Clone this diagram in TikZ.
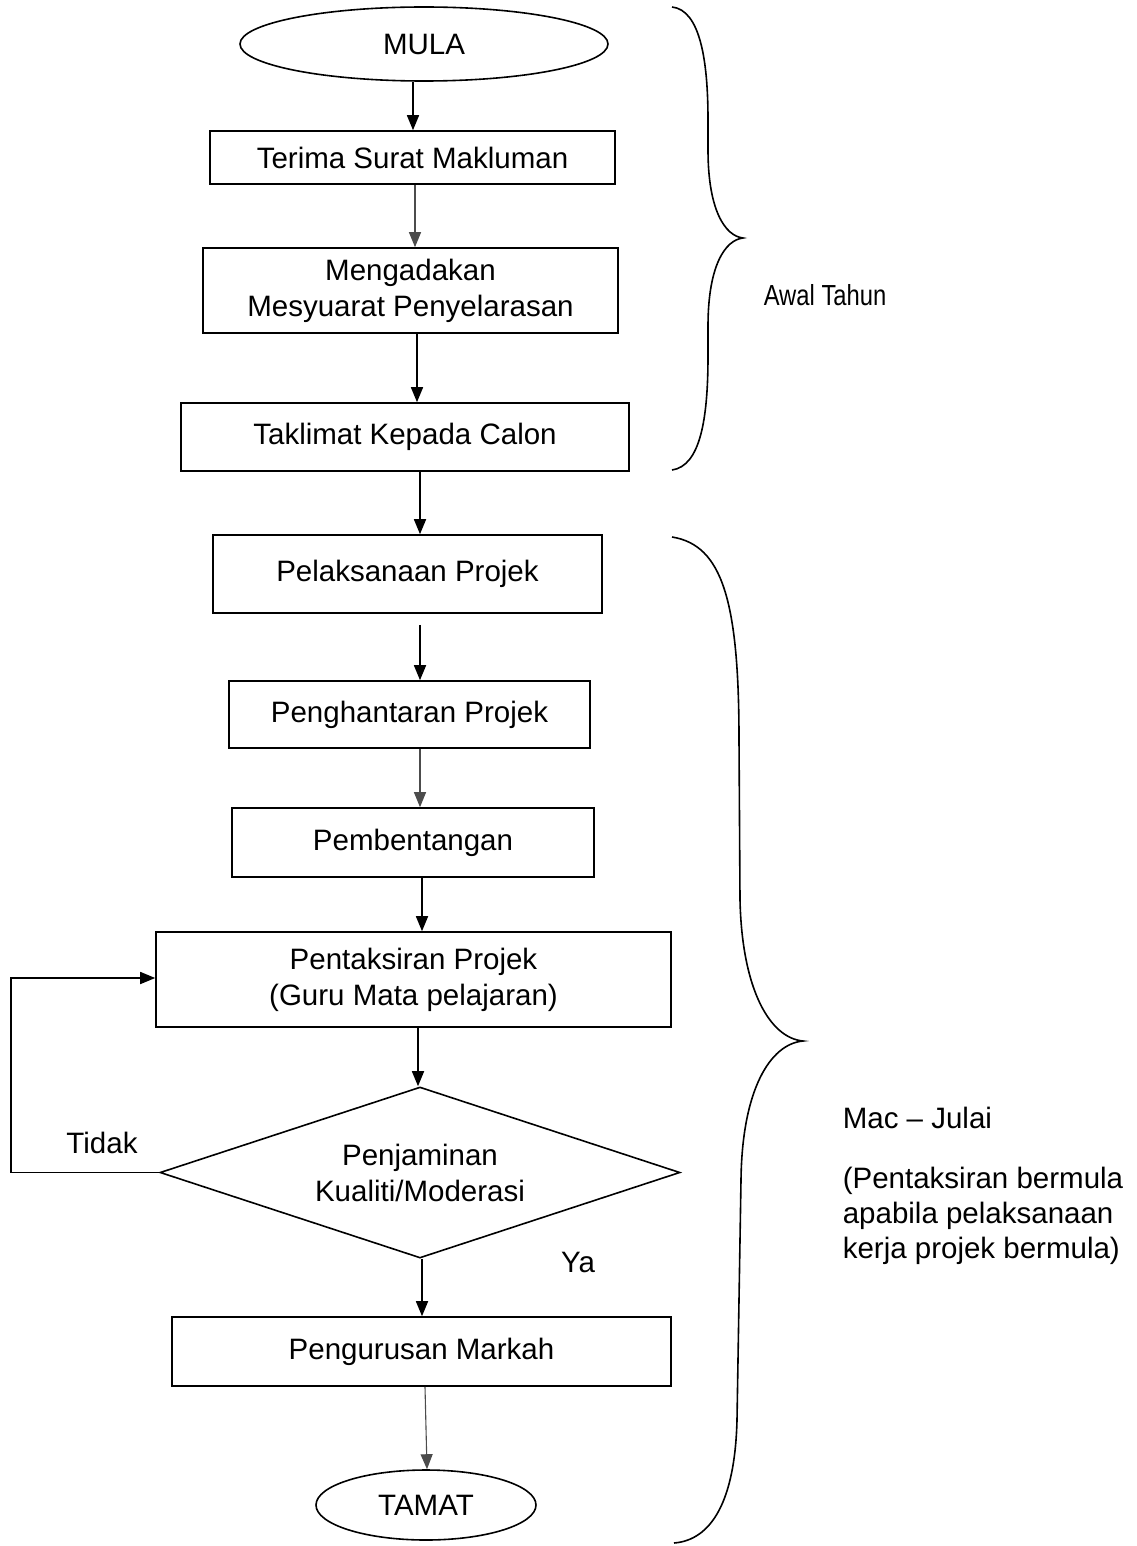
\documentclass[tikz,border=0pt]{standalone}
\usepackage{fontspec}
\setmainfont{Liberation Sans}
\newfontfamily\narrowfont[FakeStretch=0.82]{Liberation Sans}
\usetikzlibrary{arrows.meta,shapes.geometric}

\begin{document}
\begin{tikzpicture}
[x=1pt,y=-1pt,>={Triangle[length=15pt,width=12pt]},line width=1.6pt,
  font=\fontsize{29.5}{36}\selectfont,
  proc node/.style={rectangle,draw,inner sep=0pt,align=center},
  term node/.style={ellipse,draw,inner sep=0pt},
  dec node/.style={diamond,draw,inner sep=0pt,aspect=2.9,align=center},
  thin link/.style={line width=1.1pt,draw=black!70},
  note/.style={inner sep=0pt,align=left,font=\fontsize{29.5}{35}\selectfont}]
  \useasboundingbox (0,0) rectangle (1136,1546);
  \node[term node,minimum width=368pt,minimum height=74pt] (mula) at (424,44) {MULA};
  \node[proc node,minimum width=405pt,minimum height=53pt] (terima) at (412.5,157.5) {Terima Surat Makluman};
  \node[proc node,minimum width=415pt,minimum height=85pt] (mesyuarat) at (410.5,290.5) {Mengadakan\\Mesyuarat Penyelarasan};
  \node[proc node,minimum width=448pt,minimum height=68pt] (taklimat) at (405,437) {Taklimat Kepada Calon};
  \node[proc node,minimum width=389pt,minimum height=78pt] (pelaksanaan) at (407.5,574) {Pelaksanaan Projek};
  \node[proc node,minimum width=361pt,minimum height=67pt] (penghantaran) at (409.5,714.5) {Penghantaran Projek};
  \node[proc node,minimum width=362pt,minimum height=69pt] (pembentangan) at (413,842.5) {Pembentangan};
  \node[proc node,minimum width=515pt,minimum height=95pt] (pentaksiran) at (413.5,979.5) {Pentaksiran Projek\\(Guru Mata pelajaran)};
  \node[dec node,minimum width=520pt,minimum height=171pt] (jamin) at (420,1172.5) {Penjaminan\\Kualiti/Moderasi};
  \node[proc node,minimum width=499pt,minimum height=69pt] (markah) at (421.5,1351.5) {Pengurusan Markah};
  \node[term node,minimum width=220pt,minimum height=70pt] (tamat) at (426,1505) {TAMAT};

  \node (tidak) at (102,1143) {Tidak};
  \node (ya) at (578,1262) {Ya};
  \node[anchor=west,inner sep=0pt,font=\narrowfont\fontsize{29}{36}\selectfont] (awal) at (763,295) {Awal Tahun};
  \node[note,anchor=base west] (mac) at (842,1128) {Mac – Julai};
  \node[note,anchor=north west] (nota) at (842,1166) {(Pentaksiran bermula\\apabila pelaksanaan\\kerja projek bermula)};

  \path[->]
    (413,0 |- mula.south) edge (413,0 |- terima.north)
    (415,0 |- terima.south) edge[thin link] (415,0 |- mesyuarat.north)
    (417,0 |- mesyuarat.south) edge (417,0 |- taklimat.north)
    (420,0 |- taklimat.south) edge (420,0 |- pelaksanaan.north)
    (420,0 |- pelaksanaan.south) edge[shorten <=11pt] (420,0 |- penghantaran.north)
    (420,0 |- penghantaran.south) edge[thin link] (420,0 |- pembentangan.north)
    (422,0 |- pembentangan.south) edge (422,0 |- pentaksiran.north)
    (418,0 |- pentaksiran.south) edge (418,0 |- jamin.north)
    (422,0 |- jamin.south) edge (422,0 |- markah.north)
    (425,0 |- markah.south) edge[thin link] (427,0 |- tamat.north);
  \draw[->] (jamin.west) -- (11,1172.5) -- (11,978) -- (pentaksiran.west |- 11,978);

  % kurungan kanan
  \draw (672,7) .. controls (700,10) and (708,60) .. (708,120) -- (708,150)
    .. controls (708,210) and (725,236) .. (743,238)
    .. controls (725,240) and (708,266) .. (708,326) -- (708,356)
    .. controls (708,420) and (700,466) .. (672,470);
  \draw (672,537) .. controls (722,545) and (739,600) .. (739,740) -- (740,900)
    .. controls (742,990) and (770,1038) .. (803,1041)
    .. controls (770,1044) and (742,1090) .. (741,1180) -- (737,1420)
    .. controls (735,1500) and (712,1540) .. (674,1543);
\end{tikzpicture}
\end{document}
